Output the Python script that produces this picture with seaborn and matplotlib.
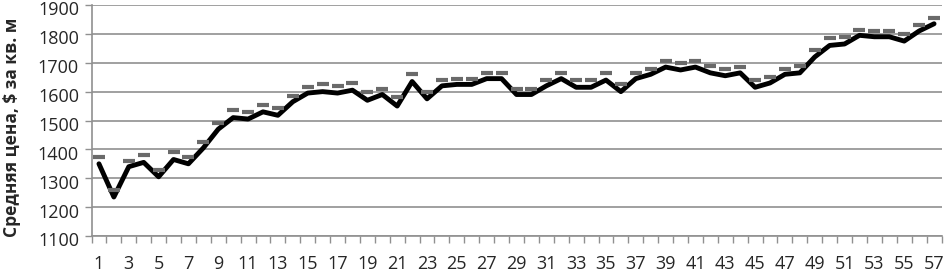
import matplotlib
matplotlib.use('Agg')
import matplotlib.pyplot as plt
import matplotlib.transforms as mtransforms
import seaborn as sns
import pandas as pd

# Data
periods = list(range(1, 58))
avg_price = [1350, 1235, 1340, 1355, 1305, 1365, 1350, 1405, 1470, 1510,
             1505, 1530, 1518, 1565, 1595, 1600, 1595, 1605, 1570, 1590,
             1550, 1635, 1575, 1620, 1625, 1625, 1645, 1645, 1590, 1590,
             1620, 1645, 1615, 1615, 1640, 1600, 1645, 1660, 1685, 1675,
             1685, 1665, 1655, 1665, 1615, 1630, 1660, 1665, 1720, 1760,
             1765, 1795, 1790, 1790, 1775, 1810, 1835]
upper_price = [1375, 1260, 1360, 1380, 1330, 1390, 1375, 1425, 1490, 1535,
               1530, 1555, 1545, 1585, 1615, 1625, 1620, 1630, 1600, 1610,
               1580, 1660, 1600, 1640, 1645, 1645, 1665, 1665, 1610, 1610,
               1640, 1665, 1640, 1640, 1665, 1625, 1665, 1680, 1705, 1700,
               1705, 1690, 1680, 1685, 1640, 1650, 1680, 1690, 1745, 1785,
               1790, 1815, 1810, 1810, 1800, 1830, 1855]
y_ticks = [1100, 1200, 1300, 1400, 1500, 1600, 1700, 1800, 1900]
y_label = 'Средняя цена, $ за кв. м'

df = pd.DataFrame({'period': periods, 'avg': avg_price, 'upper': upper_price})

sns.set_style('white')
plt.rcParams['font.family'] = ['Open Sans', 'DejaVu Sans']

fig = plt.figure(figsize=(9.46, 2.72), dpi=100)
ax = fig.add_axes([91.5 / 946, 1 - 236 / 272, (941.5 - 91.5) / 946, 231 / 272])

sns.lineplot(data=df, x='period', y='avg', color='black', linewidth=3.5,
             ax=ax, zorder=3)
sns.lineplot(data=df, x='period', y='upper', color='#6a6a6a', linestyle='none',
             marker='_', markersize=9, markeredgewidth=3,
             markeredgecolor='#6a6a6a', ax=ax, zorder=4)

ax.set_xlim(0.5, 57.5)
ax.set_ylim(1100, 1900)
ax.set_yticks(y_ticks)
ax.yaxis.grid(True, color='#a0a0a0', linewidth=1.4)
ax.set_axisbelow(True)

ax.set_xticks(periods[::2])
ax.set_xticks([p + 0.5 for p in [0] + periods], minor=True)
ax.tick_params(axis='x', which='major', length=0, pad=14, labelsize=13)
ax.tick_params(axis='x', which='minor', length=5, width=1, color='#909090',
               direction='out', bottom=True)
ax.tick_params(axis='y', length=5, width=1, color='#909090', direction='out',
               left=True, labelsize=13, pad=4)

# y labels sit a touch below their gridlines, as in the original
shift = mtransforms.ScaledTranslation(0, -2.5 / 72, fig.dpi_scale_trans)
for lbl in ax.get_yticklabels():
    lbl.set_transform(lbl.get_transform() + shift)

for side in ['top', 'right']:
    ax.spines[side].set_visible(False)
for side in ['left', 'bottom']:
    ax.spines[side].set_color('#909090')
    ax.spines[side].set_linewidth(1.2)

ax.set_xlabel('')
ax.set_ylabel(y_label, fontsize=12.5, fontweight='bold')
ax.yaxis.set_label_coords(-0.0835, 0.47)

fig.savefig('out.png', dpi=100)
